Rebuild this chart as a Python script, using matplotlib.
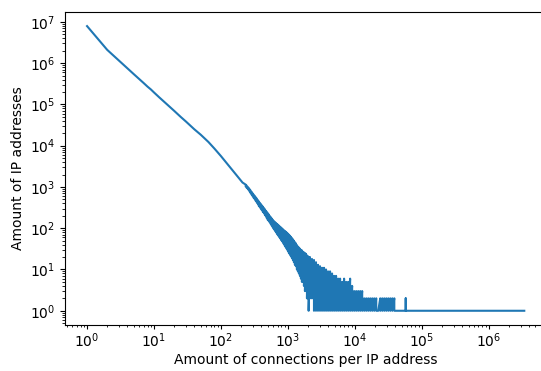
import numpy as np
import matplotlib
matplotlib.use("Agg")
import matplotlib.pyplot as plt

# connections per IP -> number of IPs (smooth head of the distribution)
head_x = [1, 2, 3, 4, 5, 6, 7, 8, 9, 10, 12, 15, 20, 25, 30, 40, 50, 65,
          80, 100, 120, 150, 180, 210]
head_y = [7.9e6, 2.1e6, 1.15e6, 7.5e5, 5.4e5, 4.15e5, 3.3e5, 2.7e5, 2.3e5,
          1.95e5, 1.48e5, 1.07e5, 7.0e4, 5.0e4, 3.85e4, 2.5e4, 1.84e4,
          1.23e4, 8.5e3, 5.6e3, 3.9e3, 2.5e3, 1.74e3, 1.28e3]

# noisy tail: at each x the count jumps between a high and a low value
tail_x = [234, 242, 251, 260, 269, 278, 288, 298, 309, 320,
          331, 343, 355, 367, 380, 393, 407, 422, 437, 452,
          468, 484, 501, 519, 537, 556, 575, 596, 617, 639,
          661, 684, 708, 733, 759, 786, 813, 842, 871, 902,
          933, 966, 1000, 1035, 1072, 1109, 1148, 1189, 1230, 1274,
          1318, 1365, 1413, 1462, 1514, 1567, 1622, 1679, 1738, 1799,
          1862, 1928, 1995, 2042, 2138, 2291, 2455, 2630, 2818, 3020,
          3236, 3467, 3715, 3981, 4266, 4571, 4898, 5248, 5623, 6026,
          6457, 6918, 7413, 7943, 8511, 9120, 9772, 10471, 11220, 12023,
          12882, 13804, 14791, 15849, 16982, 18197, 19498, 20893, 22387, 23988,
          25704, 27542, 29512, 31623, 33884, 36308, 38905]
tail_hi = [1140, 1080, 1010, 950, 880, 820, 760, 700, 650, 610,
           565, 525, 485, 450, 415, 390, 360, 335, 312, 290,
           266, 250, 232, 215, 198, 185, 172, 160, 150, 142,
           135, 128, 122, 116, 110, 105, 100, 95, 90, 86,
           82, 78, 74, 70, 66, 62, 58, 54, 50, 46,
           43, 39, 36, 34, 32, 30, 29, 27, 26, 25,
           24, 22, 21, 20, 20, 18, 17, 15, 13, 12,
           11, 11, 10, 9, 9, 8, 7, 7, 6, 6,
           5, 6, 5, 5, 6, 4, 3, 3, 3, 3,
           3, 2, 2, 2, 2, 2, 2, 2, 1, 2,
           2, 2, 2, 2, 2, 2, 2]
tail_lo = [1030, 960, 905, 830, 770, 700, 646, 590, 537, 500,
           457, 420, 389, 350, 324, 300, 275, 250, 234, 212,
           195, 175, 158, 148, 138, 125, 115, 104, 95, 88,
           81, 74, 68, 63, 58, 53, 49, 45, 41, 37,
           34, 31, 28, 25, 23, 21, 19, 17, 15, 13,
           12, 10, 9, 8, 7, 6, 5, 5, 4, 3,
           3, 2, 2, 1, 2, 2, 1, 1, 1, 1,
           1, 1, 1, 1, 1, 1, 1, 1, 1, 1,
           1, 1, 1, 1, 1, 1, 1, 1, 1, 1,
           1, 1, 1, 1, 1, 1, 1, 1, 1, 1,
           1, 1, 1, 1, 1, 1, 1]
# isolated spike and the long flat end at one IP per value
end_x = [57600, 57600, 57600, 3.4e6]
end_y = [1, 2, 1, 1]

# build one series: head, then hi/lo pairs, then the end
pairs_x = np.repeat(tail_x, 2)
pairs_y = np.column_stack([tail_hi, tail_lo]).ravel()
x = np.concatenate([head_x, pairs_x, end_x])
y = np.concatenate([head_y, pairs_y, end_y])

fig = plt.figure(figsize=(5.41, 3.71), dpi=100)
ax = fig.add_axes([0.1205, 0.124, 0.889, 0.844])
ax.plot(x, y, color='#1f77b4', linewidth=1.5)
ax.set_xscale('log')
ax.set_yscale('log')
ax.tick_params(axis='x', which='major', length=2.8, pad=1.8)
ax.tick_params(axis='x', which='minor', length=1.6)
ax.set_xlabel('Amount of connections per IP address', labelpad=2)
ax.set_ylabel('Amount of IP addresses')

fig.savefig('out.png', dpi=100, facecolor='white')
